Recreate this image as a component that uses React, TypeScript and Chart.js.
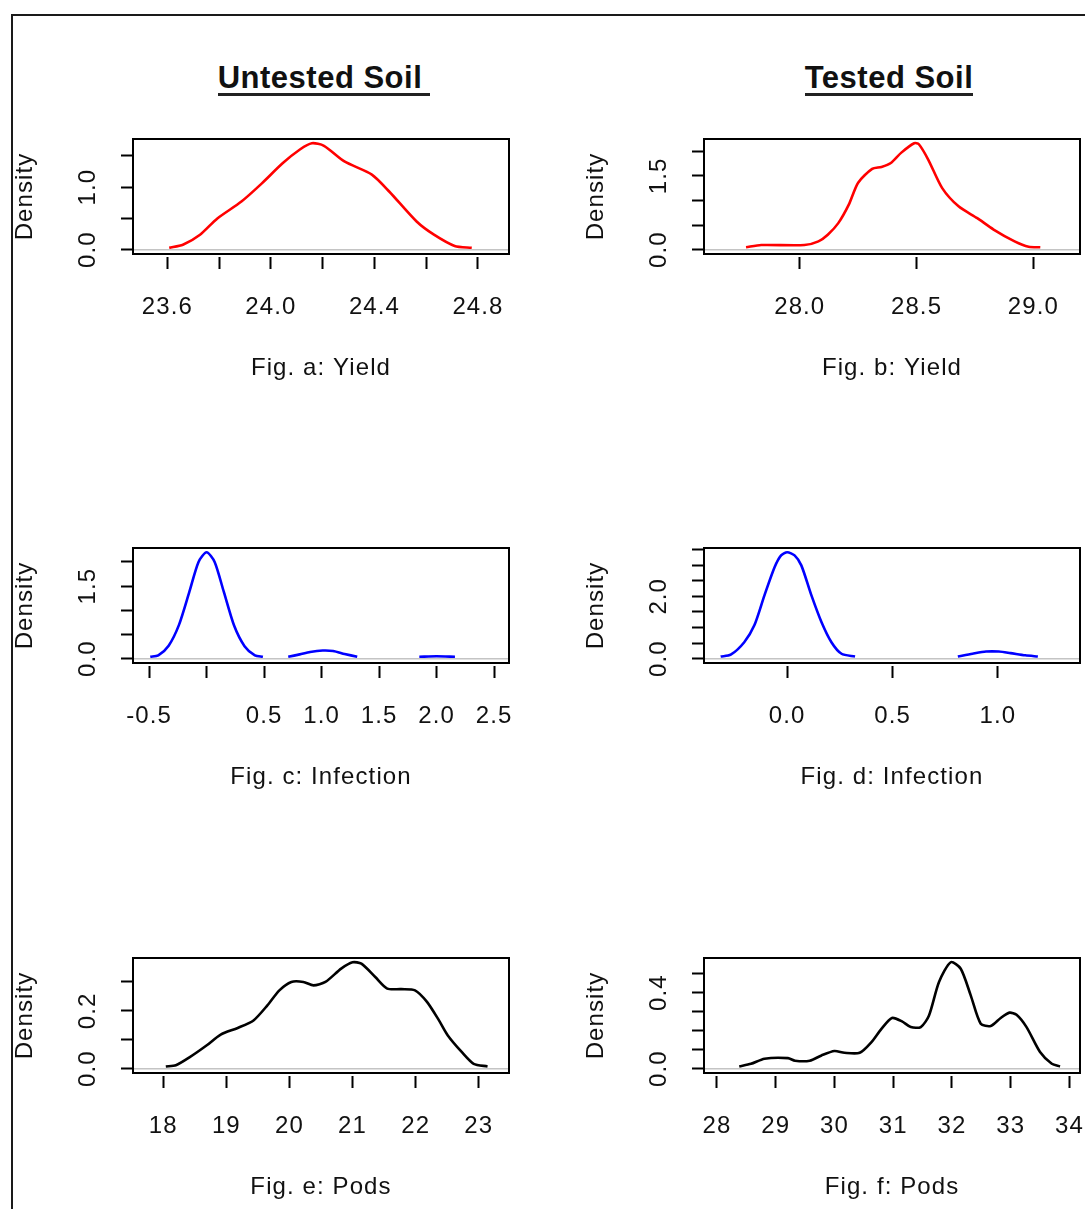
import React, { useEffect, useRef } from 'react';
import { Chart, registerables } from 'chart.js';

Chart.register(...registerables);

const FONT = '"Liberation Sans", Arial, sans-serif';

// ---------- Fig. a: Yield (untested soil) ----------
const yieldUntestedX = [23.607, 23.66, 23.726, 23.793, 23.886, 23.965, 24.045, 24.112, 24.158, 24.205, 24.284, 24.39, 24.457, 24.563, 24.63, 24.71, 24.776];
const yieldUntestedY = [0.03, 0.08, 0.24, 0.5, 0.77, 1.06, 1.38, 1.6, 1.7, 1.66, 1.41, 1.2, 0.93, 0.45, 0.24, 0.06, 0.03];
const yieldUntestedXTicks = [23.6, 23.8, 24.0, 24.2, 24.4, 24.6, 24.8];
const yieldUntestedXLabels = ['23.6', '', '24.0', '', '24.4', '', '24.8'];
const yieldUntestedYTicks = [0, 0.5, 1.0, 1.5];
const yieldUntestedYLabels = ['0.0', '', '1.0', ''];
const yieldUntestedRange = [23.467, 24.92];

// ---------- Fig. b: Yield (tested soil) ----------
const yieldTestedX = [27.77, 27.835, 28.02, 28.08, 28.12, 28.165, 28.21, 28.25, 28.31, 28.35, 28.39, 28.435, 28.49, 28.51, 28.55, 28.61, 28.68, 28.76, 28.83, 28.92, 28.98, 29.03];
const yieldTestedY = [0.05, 0.095, 0.095, 0.17, 0.305, 0.54, 0.915, 1.36, 1.64, 1.68, 1.76, 1.97, 2.16, 2.14, 1.83, 1.25, 0.88, 0.64, 0.41, 0.17, 0.06, 0.05];
const yieldTestedXTicks = [28.0, 28.5, 29.0];
const yieldTestedXLabels = ['28.0', '28.5', '29.0'];
const yieldTestedYTicks = [0, 0.5, 1.0, 1.5, 2.0];
const yieldTestedYLabels = ['0.0', '', '', '1.5', ''];
const yieldTestedRange = [27.59, 29.2];

// ---------- Fig. c: Infection (untested soil) ----------
const infectionUntestedX = [-0.49, -0.42, -0.33, -0.24, -0.15, -0.07, 0.0, 0.07, 0.15, 0.24, 0.33, 0.42, 0.49, 0.6, 0.71, 0.81, 0.9, 1.01, 1.1, 1.2, 1.31, 1.5, 1.85, 2.0, 2.16];
const infectionUntestedY = [0.04, 0.07, 0.27, 0.7, 1.38, 2.0, 2.2, 2.0, 1.38, 0.68, 0.26, 0.07, 0.04, null, 0.04, 0.09, 0.14, 0.17, 0.16, 0.1, 0.04, null, 0.04, 0.05, 0.04];
const infectionUntestedXTicks = [-0.5, 0.0, 0.5, 1.0, 1.5, 2.0, 2.5];
const infectionUntestedXLabels = ['-0.5', '', '0.5', '1.0', '1.5', '2.0', '2.5'];
const infectionUntestedYTicks = [0, 0.5, 1.0, 1.5, 2.0];
const infectionUntestedYLabels = ['0.0', '', '', '1.5', ''];
const infectionUntestedRange = [-0.64, 2.63];

// ---------- Fig. d: Infection (tested soil) ----------
const infectionTestedX = [-0.316, -0.268, -0.204, -0.156, -0.108, -0.06, -0.029, 0.0, 0.035, 0.067, 0.115, 0.163, 0.21, 0.258, 0.322, 0.5, 0.81, 0.88, 0.944, 1.005, 1.06, 1.13, 1.19];
const infectionTestedY = [0.07, 0.13, 0.53, 1.07, 2.03, 2.93, 3.31, 3.41, 3.31, 2.99, 2.03, 1.17, 0.53, 0.16, 0.07, null, 0.07, 0.16, 0.23, 0.23, 0.18, 0.11, 0.07];
const infectionTestedXTicks = [0.0, 0.5, 1.0];
const infectionTestedXLabels = ['0.0', '0.5', '1.0'];
const infectionTestedYTicks = [0, 0.5, 1.0, 1.5, 2.0, 2.5, 3.0, 3.5];
const infectionTestedYLabels = ['0.0', '', '', '', '2.0', '', '', ''];
const infectionTestedRange = [-0.395, 1.39];

// ---------- Fig. e: Pods (untested soil) ----------
const podsUntestedX = [18.04, 18.2, 18.42, 18.69, 18.91, 19.18, 19.43, 19.65, 19.84, 20.03, 20.22, 20.38, 20.57, 20.82, 21.0, 21.14, 21.36, 21.55, 21.77, 21.99, 22.18, 22.37, 22.51, 22.73, 22.92, 23.14];
const podsUntestedY = [0.008, 0.012, 0.04, 0.081, 0.118, 0.141, 0.167, 0.219, 0.271, 0.3, 0.3, 0.288, 0.3, 0.346, 0.368, 0.363, 0.317, 0.277, 0.275, 0.271, 0.231, 0.167, 0.115, 0.058, 0.017, 0.008];
const podsUntestedXTicks = [18, 19, 20, 21, 22, 23];
const podsUntestedXLabels = ['18', '19', '20', '21', '22', '23'];
const podsUntestedYTicks = [0, 0.1, 0.2, 0.3];
const podsUntestedYLabels = ['0.0', '', '0.2', ''];
const podsUntestedRange = [17.52, 23.48];

// ---------- Fig. f: Pods (tested soil) ----------
const podsTestedX = [28.38, 28.58, 28.81, 29.21, 29.33, 29.58, 29.78, 30.0, 30.17, 30.43, 30.63, 30.8, 30.98, 31.15, 31.3, 31.47, 31.61, 31.78, 31.98, 32.15, 32.32, 32.49, 32.66, 32.83, 32.98, 33.1, 33.27, 33.5, 33.7, 33.84];
const podsTestedY = [0.012, 0.026, 0.053, 0.056, 0.042, 0.042, 0.07, 0.093, 0.084, 0.084, 0.14, 0.21, 0.267, 0.249, 0.219, 0.219, 0.28, 0.456, 0.56, 0.526, 0.386, 0.237, 0.225, 0.267, 0.295, 0.284, 0.219, 0.088, 0.026, 0.012];
const podsTestedXTicks = [28, 29, 30, 31, 32, 33, 34];
const podsTestedXLabels = ['28', '29', '30', '31', '32', '33', '34'];
const podsTestedYTicks = [0, 0.1, 0.2, 0.3, 0.4, 0.5];
const podsTestedYLabels = ['0.0', '', '', '', '0.4', ''];
const podsTestedRange = [27.78, 34.18];

const columnTitles = ['Untested Soil', 'Tested Soil'];

type PanelProps = {
  left: number;
  top: number;
  width: number;
  padRight: number;
  xs: number[];
  ys: (number | null)[];
  color: string;
  range: number[];
  xTicks: number[];
  xLabels: string[];
  yTicks: number[];
  yLabels: string[];
  caption: string;
};

const CANVAS_H = 265;
const AXIS_W = 123;
const AXIS_H = 130;

const framePlugin = {
  id: 'rframe',
  beforeUpdate(chart: any) {
    chart.ctx.letterSpacing = '1.1px';
  },
  beforeDraw(chart: any) {
    chart.ctx.letterSpacing = '1.1px';
  },
  afterDatasetsDraw(chart: any) {
    const { ctx, chartArea, scales } = chart;
    const y0 = scales.y.getPixelForValue(0);
    ctx.save();
    ctx.strokeStyle = '#c4c4c4';
    ctx.lineWidth = 1.5;
    ctx.beginPath();
    ctx.moveTo(chartArea.left, y0);
    ctx.lineTo(chartArea.right, y0);
    ctx.stroke();
    ctx.restore();
  },
  afterDraw(chart: any) {
    const { ctx, chartArea } = chart;
    ctx.save();
    ctx.strokeStyle = '#000';
    ctx.lineWidth = 2;
    ctx.strokeRect(chartArea.left, chartArea.top, chartArea.right - chartArea.left, chartArea.bottom - chartArea.top);
    ctx.restore();
  },
};

function DensityPanel(p: PanelProps) {
  const ref = useRef<HTMLCanvasElement | null>(null);
  useEffect(() => {
    if (!ref.current) return;
    const peak = Math.max(...(p.ys.filter((v) => v !== null) as number[]));
    const font = { family: FONT, size: 24, lineHeight: 1 };
    const chart = new Chart(ref.current, {
      type: 'line',
      data: {
        datasets: [
          {
            data: p.xs.map((x, i) => ({ x, y: p.ys[i] })) as any,
            borderColor: p.color,
            borderWidth: 2.6,
            pointRadius: 0,
            tension: 0.25,
            spanGaps: false,
            fill: false,
          },
        ],
      },
      options: {
        animation: false,
        responsive: false,
        events: [],
        layout: { padding: { top: 20, right: p.padRight, bottom: 0, left: 0 } },
        plugins: { legend: { display: false }, tooltip: { enabled: false } },
        scales: {
          x: {
            type: 'linear',
            position: 'bottom',
            min: p.range[0],
            max: p.range[1],
            afterBuildTicks: (s: any) => {
              s.ticks = p.xTicks.map((v) => ({ value: v }));
            },
            afterFit: (s: any) => {
              s.height = AXIS_H;
              s.paddingLeft = 0;
              s.paddingRight = 0;
            },
            ticks: {
              autoSkip: false,
              maxRotation: 0,
              minRotation: 0,
              padding: 26,
              color: '#111',
              font,
              callback: (_v: any, i: number) => p.xLabels[i],
            },
            grid: {
              display: true,
              drawOnChartArea: false,
              drawTicks: true,
              tickLength: 15,
              tickWidth: 2,
              tickColor: '#000',
              tickBorderDash: [0, 3, 12, 100],
            },
            border: { display: false },
            title: {
              display: true,
              text: p.caption,
              color: '#111',
              font,
              padding: { top: 0, bottom: 4 },
            },
          },
          y: {
            type: 'linear',
            position: 'left',
            min: -0.04 * peak,
            max: 1.04 * peak,
            afterBuildTicks: (s: any) => {
              s.ticks = p.yTicks.map((v) => ({ value: v }));
            },
            afterFit: (s: any) => {
              s.width = AXIS_W;
              s.paddingTop = 0;
              s.paddingBottom = 0;
            },
            ticks: {
              autoSkip: false,
              minRotation: 90,
              maxRotation: 90,
              crossAlign: 'center',
              padding: 14,
              color: '#111',
              font,
              callback: (_v: any, i: number) => p.yLabels[i],
            },
            grid: {
              display: true,
              drawOnChartArea: false,
              drawTicks: true,
              tickLength: 12,
              tickWidth: 2,
              tickColor: '#000',
            },
            border: { display: false },
            title: {
              display: true,
              text: 'Density',
              color: '#111',
              font,
              padding: { top: 3, bottom: 0 },
            },
          },
        },
      } as any,
      plugins: [framePlugin],
    });
    return () => chart.destroy();
  }, []);
  return (
    <canvas
      ref={ref}
      width={p.width}
      height={CANVAS_H}
      style={{ position: 'absolute', left: p.left, top: p.top, width: p.width, height: CANVAS_H }}
    />
  );
}

const LEFT = { left: 10, width: 530, padRight: 31 };
const RIGHT = { left: 581, width: 504, padRight: 5 };
const ROW_TOPS = [119, 528, 938];

export default function App() {
  return (
    <div
      style={{
        position: 'absolute',
        left: 0,
        top: 0,
        width: 1085,
        height: 1209,
        overflow: 'hidden',
        background: '#fff',
      }}
    >
      <div
        style={{
          position: 'absolute',
          left: 11,
          top: 14,
          width: 1074,
          height: 1195,
          borderLeft: '2px solid #1a1a1a',
          borderTop: '2px solid #1a1a1a',
          boxSizing: 'border-box',
        }}
      />
      <div style={{ position: 'absolute', left: 124, width: 400, top: 62, textAlign: 'center' }}>
        <span
          style={{
            display: 'inline-block',
            fontFamily: FONT,
            fontWeight: 'bold',
            fontSize: 31,
            lineHeight: '31px',
            letterSpacing: '0.5px',
            color: '#111',
            borderBottom: '3px solid #222',
            paddingRight: 8,
          }}
        >
          {columnTitles[0]}
        </span>
      </div>
      <div style={{ position: 'absolute', left: 689, width: 400, top: 62, textAlign: 'center' }}>
        <span
          style={{
            display: 'inline-block',
            fontFamily: FONT,
            fontWeight: 'bold',
            fontSize: 31,
            lineHeight: '31px',
            letterSpacing: '0.5px',
            color: '#111',
            borderBottom: '3px solid #222',
          }}
        >
          {columnTitles[1]}
        </span>
      </div>

      <DensityPanel {...LEFT} top={ROW_TOPS[0]} xs={yieldUntestedX} ys={yieldUntestedY} color="#ff0000"
        range={yieldUntestedRange} xTicks={yieldUntestedXTicks} xLabels={yieldUntestedXLabels}
        yTicks={yieldUntestedYTicks} yLabels={yieldUntestedYLabels} caption="Fig. a: Yield" />
      <DensityPanel {...RIGHT} top={ROW_TOPS[0]} xs={yieldTestedX} ys={yieldTestedY} color="#ff0000"
        range={yieldTestedRange} xTicks={yieldTestedXTicks} xLabels={yieldTestedXLabels}
        yTicks={yieldTestedYTicks} yLabels={yieldTestedYLabels} caption="Fig. b: Yield" />
      <DensityPanel {...LEFT} top={ROW_TOPS[1]} xs={infectionUntestedX} ys={infectionUntestedY} color="#0000ff"
        range={infectionUntestedRange} xTicks={infectionUntestedXTicks} xLabels={infectionUntestedXLabels}
        yTicks={infectionUntestedYTicks} yLabels={infectionUntestedYLabels} caption="Fig. c: Infection" />
      <DensityPanel {...RIGHT} top={ROW_TOPS[1]} xs={infectionTestedX} ys={infectionTestedY} color="#0000ff"
        range={infectionTestedRange} xTicks={infectionTestedXTicks} xLabels={infectionTestedXLabels}
        yTicks={infectionTestedYTicks} yLabels={infectionTestedYLabels} caption="Fig. d: Infection" />
      <DensityPanel {...LEFT} top={ROW_TOPS[2]} xs={podsUntestedX} ys={podsUntestedY} color="#000000"
        range={podsUntestedRange} xTicks={podsUntestedXTicks} xLabels={podsUntestedXLabels}
        yTicks={podsUntestedYTicks} yLabels={podsUntestedYLabels} caption="Fig. e: Pods" />
      <DensityPanel {...RIGHT} top={ROW_TOPS[2]} xs={podsTestedX} ys={podsTestedY} color="#000000"
        range={podsTestedRange} xTicks={podsTestedXTicks} xLabels={podsTestedXLabels}
        yTicks={podsTestedYTicks} yLabels={podsTestedYLabels} caption="Fig. f: Pods" />
    </div>
  );
}
